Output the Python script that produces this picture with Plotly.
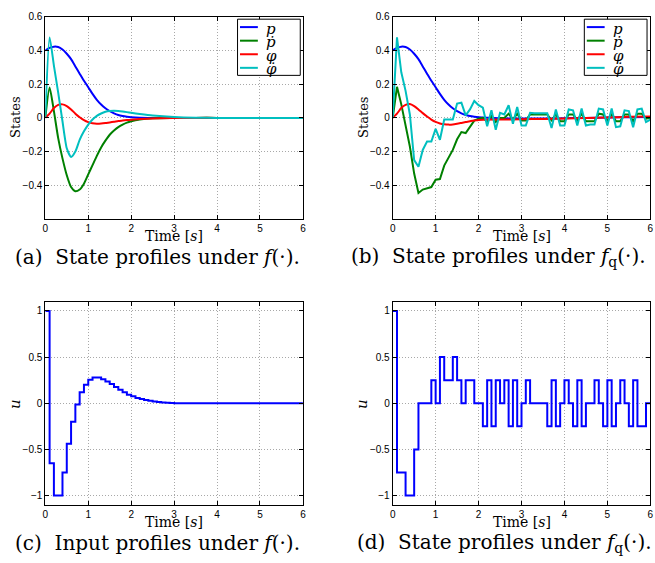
import plotly.graph_objects as go

# ---------------- data ----------------
# (a) state profiles under f(.)  (smooth)
t_a = [0.0, 0.1, 0.2, 0.3, 0.4, 0.5, 0.6, 0.7, 0.8, 0.9, 1.0, 1.1, 1.2, 1.3, 1.4,
       1.5, 1.6, 1.7, 1.8, 1.9, 2.0, 2.2, 2.5, 3.0, 3.5, 4.0, 5.0, 6.0]
p_a = [0.40, 0.415, 0.422, 0.42, 0.405, 0.38, 0.348, 0.305, 0.262, 0.22, 0.182, 0.142,
       0.107, 0.079, 0.057, 0.04, 0.027, 0.017, 0.011, 0.007, 0.004, 0.001, 0.0, 0.0,
       0.0, 0.0, 0.0, 0.0]
pdot_a = [0.0, 0.18, 0.04, -0.12, -0.24, -0.34, -0.41, -0.435, -0.425, -0.39, -0.335,
          -0.28, -0.225, -0.175, -0.135, -0.1, -0.075, -0.055, -0.04, -0.028, -0.02,
          -0.01, -0.003, -0.001, 0.0, 0.0, 0.0, 0.0]
phi_a = [0.0, 0.025, 0.058, 0.077, 0.08, 0.07, 0.05, 0.025, 0.004, -0.013, -0.025,
         -0.032, -0.035, -0.034, -0.031, -0.027, -0.023, -0.019, -0.016, -0.013, -0.011,
         -0.007, -0.003, -0.001, 0.0, 0.0, 0.0, 0.0]
phidot_a = [0.0, 0.477, 0.31, 0.15, -0.02, -0.18, -0.232, -0.2, -0.13, -0.08, -0.04,
            -0.01, 0.012, 0.026, 0.036, 0.041, 0.042, 0.041, 0.038, 0.034, 0.03, 0.023,
            0.014, 0.005, 0.001, 0.0, 0.0, 0.0]

# (b) state profiles under f_q(.)
t_b = [round(0.1 * k, 1) for k in range(61)]
pdot_b = [0.0, 0.184, 0.08, -0.035, -0.17, -0.33, -0.445, -0.425, -0.418, -0.41, -0.367,
          -0.363, -0.283, -0.24, -0.19, -0.127, -0.084, -0.09, -0.055, -0.016, -0.005,
          0.0, -0.02, 0.01, -0.025, 0.0, 0.0, 0.025, -0.01, 0.025, -0.015,
          -0.015, 0.02, 0.02, 0.02, 0.02, 0.02, -0.015, 0.02, -0.02, -0.02,
          0.02, 0.02, -0.015, 0.025, -0.02, -0.02, -0.02, 0.025, 0.02, -0.02,
          0.025, -0.02, -0.02, 0.02, 0.02, -0.02, 0.025, 0.025, -0.005, 0.0]
phidot_b = [0.0, 0.477, 0.27, 0.16, 0.02, -0.25, -0.29, -0.19, -0.14, -0.14, -0.065,
            -0.13, -0.01, -0.01, -0.01, 0.085, 0.09, 0.015, 0.05, 0.1, 0.075,
            0.06, -0.05, 0.045, -0.07, 0.03, 0.02, 0.075, -0.035, 0.065, -0.045,
            -0.045, 0.03, 0.028, 0.027, 0.027, 0.027, -0.06, 0.05, -0.045, -0.045,
            0.05, 0.045, -0.045, 0.055, -0.045, -0.04, -0.04, 0.055, 0.05, -0.045,
            0.055, -0.055, -0.05, 0.045, 0.04, -0.055, 0.05, 0.055, -0.025, -0.01]
t_b_smooth = [0.0, 0.1, 0.2, 0.3, 0.4, 0.5, 0.6, 0.7, 0.8, 0.9, 1.0, 1.1, 1.2, 1.3, 1.4,
              1.5, 1.6, 1.7, 1.8, 1.9, 2.0, 2.5, 3.0, 3.5, 4.0, 4.5, 5.0, 5.5, 6.0]
p_b = [0.40, 0.415, 0.422, 0.42, 0.405, 0.38, 0.348, 0.305, 0.262, 0.22, 0.182, 0.142,
       0.107, 0.079, 0.057, 0.04, 0.027, 0.017, 0.011, 0.007, 0.004, -0.002, -0.004,
       -0.004, -0.002, 0.0, 0.002, 0.004, 0.005]
phi_b = [0.0, 0.025, 0.058, 0.077, 0.082, 0.07, 0.05, 0.028, 0.008, -0.01, -0.024,
         -0.033, -0.038, -0.04, -0.039, -0.035, -0.03, -0.025, -0.02, -0.016, -0.012,
         -0.01, -0.008, -0.006, -0.004, -0.001, 0.002, 0.006, 0.008]

# (c) input under f(.)  (zero-order hold, 0.1 s)
t_u = [round(0.1 * k, 1) for k in range(61)]
u_c = [1.0, -0.65, -1.0, -1.0, -0.75, -0.44, -0.2, -0.015, 0.12, 0.2, 0.254,
       0.279, 0.279, 0.261, 0.236, 0.207, 0.175, 0.146, 0.118, 0.093, 0.075,
       0.057, 0.045, 0.035, 0.027, 0.02, 0.014, 0.009, 0.006, 0.003, 0.001] + [0.0] * 30
# (d) input under f_q(.)
u_d = [1.0, -0.75, -0.75, -1.0, -1.0, -0.5, 0.0, 0.0, 0.0, 0.25,
       0.0, 0.5, 0.25, 0.25, 0.5, 0.25, 0.0, 0.25, 0.25, 0.0,
       0.0, -0.25, 0.25, -0.25, 0.25, 0.0, 0.25, -0.25, 0.25, -0.25,
       0.0, 0.25, 0.0, 0.0, 0.0, 0.0, -0.25, 0.25, -0.25, 0.0,
       0.25, 0.0, -0.25, 0.25, -0.25, 0.0, 0.0, 0.25, 0.0, -0.25,
       0.25, -0.25, 0.0, 0.25, 0.0, -0.25, 0.25, -0.25, -0.25, 0.0, 0.0]

state_names = ["<i>p</i>", "<i>ṗ</i>", "<i>φ</i>", "<i>φ̇</i>"]
state_colors = ["#0000FF", "#008000", "#FF0000", "#00BFBF"]
x_ticks = [0, 1, 2, 3, 4, 5, 6]
state_ticks = [-0.4, -0.2, 0, 0.2, 0.4, 0.6]
u_ticks = [-1, -0.5, 0, 0.5, 1]

W, H = 655, 563
LW = 2

def px(x):
    return x / W

def py(y):
    return 1 - y / H

fig = go.Figure()

# (a)
for ys, nm, c in zip([p_a, pdot_a, phi_a, phidot_a], state_names, state_colors):
    fig.add_trace(go.Scatter(x=t_a, y=ys, name=nm, mode="lines", showlegend=False,
                             line=dict(color=c, width=LW, shape="spline", smoothing=0.6),
                             xaxis="x", yaxis="y"))
# (b)
b_series = [(t_b_smooth, p_b, "spline"), (t_b, pdot_b, "linear"),
            (t_b_smooth, phi_b, "spline"), (t_b, phidot_b, "linear")]
for (xs, ys, sh), nm, c in zip(b_series, state_names, state_colors):
    ln = dict(color=c, width=LW, shape=sh)
    if sh == "spline":
        ln["smoothing"] = 0.6
    fig.add_trace(go.Scatter(x=xs, y=ys, name=nm, mode="lines", line=ln, showlegend=False,
                             xaxis="x2", yaxis="y2"))
# (c), (d)
fig.add_trace(go.Scatter(x=t_u, y=u_c, mode="lines", showlegend=False,
                         line=dict(color="#0000FF", width=LW, shape="hv"),
                         xaxis="x3", yaxis="y3"))
fig.add_trace(go.Scatter(x=t_u, y=u_d, mode="lines", showlegend=False,
                         line=dict(color="#0000FF", width=LW, shape="hv"),
                         xaxis="x4", yaxis="y4"))

# geometry (window pixels)
L1, R1 = 42.7, 302.7
L2, R2 = 393.3, 653.3
T1, B1 = 11.7, 216.0
T2, B2 = 299.3, 504.3

tickfont = dict(family="Liberation Sans, Arial, sans-serif", size=10, color="black")
axcommon = dict(showline=True, linecolor="black", linewidth=1, mirror="ticks",
                ticks="inside", ticklen=4, tickcolor="black", tickfont=tickfont,
                showgrid=True, gridcolor="#a8a8a8", griddash="1px,2px", gridwidth=1,
                zeroline=False, ticklabeloverflow="allow")

def xa(dom, anchor):
    return dict(domain=dom, anchor=anchor, range=[0, 6.0001], tickvals=x_ticks, **axcommon)

def ya(dom, anchor, rng, tv):
    return dict(domain=dom, anchor=anchor, range=rng, tickvals=tv, **axcommon)

serif = "DejaVu Serif, serif"

fig.update_layout(
    width=W, height=H, autosize=False,
    margin=dict(l=0, r=0, t=0, b=0),
    paper_bgcolor="white", plot_bgcolor="white",
    xaxis=xa([px(L1), px(R1)], "y"),
    yaxis=ya([py(B1), py(T1)], "x", [-0.6, 0.6004], state_ticks),
    xaxis2=xa([px(L2), px(R2)], "y2"),
    yaxis2=ya([py(B1), py(T1)], "x2", [-0.6, 0.6004], state_ticks),
    xaxis3=xa([px(L1), px(R1)], "y3"),
    yaxis3=ya([py(B2), py(T2)], "x3", [-1.1, 1.1], u_ticks),
    xaxis4=xa([px(L2), px(R2)], "y4"),
    yaxis4=ya([py(B2), py(T2)], "x4", [-1.1, 1.1], u_ticks),
    showlegend=False,
)

ann = []
shapes = []

def add_text(x, y, text, size, angle=0, xanchor="center", family=serif):
    ann.append(dict(x=x, y=y, xref="paper", yref="paper", text=text, showarrow=False,
                    xanchor=xanchor, yanchor="middle", textangle=angle,
                    font=dict(family=family, size=size, color="black")))

# axis titles
for L, R, B in [(L1, R1, B1), (L2, R2, B1), (L1, R1, B2), (L2, R2, B2)]:
    add_text(px((L + R) / 2), py(B + 17), "Time [<i>s</i>]", 14)
add_text(px(13), py(113), "States", 13, angle=-90)
add_text(px(364.3), py(113), "States", 13, angle=-90)
add_text(px(12.3), py(402.3), "<i>u</i>", 15, angle=-90)
add_text(px(362.5), py(402.3), "<i>u</i>", 15, angle=-90)

# captions
add_text(px(156), py(254), "(a)  State profiles under <i>f</i>(·).", 20)
add_text(px(500), py(254), "(b)  State profiles under <i>f</i><sub>q</sub>(·).", 20)
add_text(px(156), py(543), "(c)  Input profiles under <i>f</i>(·).", 20)
add_text(px(506), py(543), "(d)  State profiles under <i>f</i><sub>q</sub>(·).", 20)

# legend boxes (drawn like MATLAB's compact legend)
for bx in [236.7, 586.7]:
    shapes.append(dict(type="rect", xref="paper", yref="paper",
                       x0=px(bx), x1=px(bx + 63.3), y0=py(71), y1=py(14.3),
                       line=dict(color="black", width=1), fillcolor="white", layer="above"))
    for i, (nm, c) in enumerate(zip(state_names, state_colors)):
        yy = 22.3 + 13.7 * i
        shapes.append(dict(type="line", xref="paper", yref="paper",
                           x0=px(bx + 2.5), x1=px(bx + 20.5), y0=py(yy), y1=py(yy),
                           line=dict(color=c, width=LW), layer="above"))
        add_text(px(bx + 27), py(yy + 1.5), nm, 15, xanchor="left")

fig.update_layout(annotations=ann, shapes=shapes)
fig.write_html("out.html", config={"displayModeBar": False},
               post_script="document.body.style.margin='0';document.body.style.overflow='hidden';")
